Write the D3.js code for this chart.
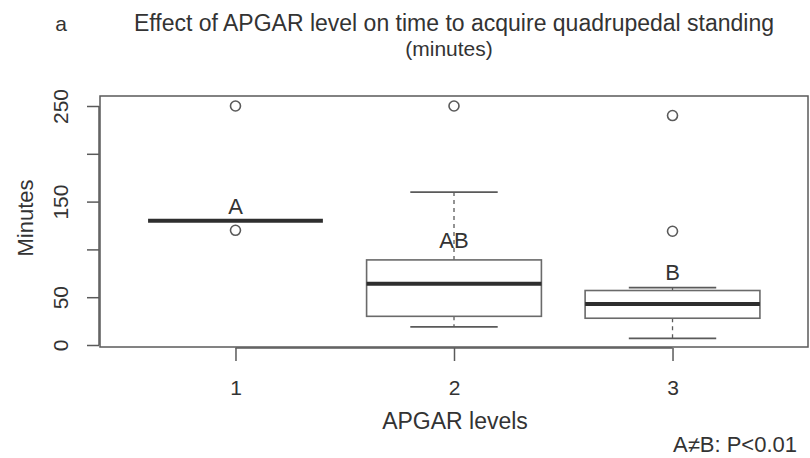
<!DOCTYPE html>
<html>
<head>
<meta charset="utf-8">
<script src="https://cdnjs.cloudflare.com/ajax/libs/d3/7.8.5/d3.min.js"></script>
<style>
  body { margin: 0; background: #fff; }
  text { font-family: "Liberation Sans", Arial, sans-serif; fill: #333; }
</style>
</head>
<body>
<script>
// values
var levels = [1, 2, 3];
var medians = [130, 64, 43];
var q1 = [130, 30, 28];
var q3 = [130, 89, 57];
var whiskLow = [130, 19, 7];
var whiskHigh = [130, 160, 60];
var outliers = [[250, 120], [250], [240, 119]];
var letters = ["A", "AB", "B"];
var letterAt = [145, 110, 76];
var yTicks = [0, 50, 100, 150, 200, 250];
var yTickLabels = ["0", "50", "", "150", "", "250"];

var W = 810, H = 458;
var frame = {left: 100, right: 808, top: 96, bottom: 347};

var svg = d3.select("body").append("svg")
  .attr("width", W).attr("height", H);

var x = d3.scaleLinear().domain([0.38, 3.62]).range([frame.left, frame.right]);
var y = d3.scaleLinear().domain([0, 250]).range([345, 106]);

var lineCol = "#5a5a5a";

// frame
svg.append("rect")
  .attr("x", frame.left).attr("y", frame.top)
  .attr("width", frame.right - frame.left).attr("height", frame.bottom - frame.top)
  .attr("fill", "none").attr("stroke", lineCol).attr("stroke-width", 1.5);

// y axis
var yAxis = d3.axisLeft(y).tickValues(yTicks)
  .tickFormat(function(d, i){ return yTickLabels[i]; })
  .tickSize(12);
var gy = svg.append("g").attr("transform", "translate(" + (frame.left - 1) + ",0)").call(yAxis);
gy.select(".domain").remove();
gy.selectAll("line").attr("stroke", lineCol).attr("stroke-width", 1.5);
gy.selectAll("text")
  .attr("font-size", 21).attr("fill", "#333")
  .attr("text-anchor", "middle")
  .attr("x", 0).attr("y", 0).attr("dy", 0)
  .attr("transform", "translate(-31,0) rotate(-90)");
svg.append("line")
  .attr("x1", frame.left - 1).attr("x2", frame.left - 1)
  .attr("y1", y(0)).attr("y2", y(250))
  .attr("stroke", lineCol).attr("stroke-width", 1.5);

// x axis
var xAxis = d3.axisBottom(x).tickValues(levels).tickFormat(d3.format("d"))
  .tickSize(13).tickPadding(19);
var gx = svg.append("g").attr("transform", "translate(0," + (frame.bottom + 1) + ")").call(xAxis);
gx.select(".domain").remove();
gx.selectAll("line").attr("stroke", lineCol).attr("stroke-width", 1.5);
gx.selectAll("text").attr("font-size", 21).attr("fill", "#333");
svg.append("line")
  .attr("x1", x(1)).attr("x2", x(3))
  .attr("y1", frame.bottom + 1).attr("y2", frame.bottom + 1)
  .attr("stroke", lineCol).attr("stroke-width", 1.5);

// boxes
var boxHalf = 0.4, capHalf = 0.2;
var g = svg.append("g");
levels.forEach(function(lv, i) {
  // whiskers
  if (whiskHigh[i] > q3[i]) {
    g.append("line").attr("x1", x(lv)).attr("x2", x(lv))
      .attr("y1", y(q3[i])).attr("y2", y(whiskHigh[i]))
      .attr("stroke", lineCol).attr("stroke-width", 1.3).attr("stroke-dasharray", "4,4");
    g.append("line").attr("x1", x(lv - capHalf)).attr("x2", x(lv + capHalf))
      .attr("y1", y(whiskHigh[i])).attr("y2", y(whiskHigh[i]))
      .attr("stroke", lineCol).attr("stroke-width", 1.8);
  }
  if (whiskLow[i] < q1[i]) {
    g.append("line").attr("x1", x(lv)).attr("x2", x(lv))
      .attr("y1", y(q1[i])).attr("y2", y(whiskLow[i]))
      .attr("stroke", lineCol).attr("stroke-width", 1.3).attr("stroke-dasharray", "4,4");
    g.append("line").attr("x1", x(lv - capHalf)).attr("x2", x(lv + capHalf))
      .attr("y1", y(whiskLow[i])).attr("y2", y(whiskLow[i]))
      .attr("stroke", lineCol).attr("stroke-width", 1.8);
  }
  g.append("rect")
    .attr("x", x(lv - boxHalf)).attr("width", x(lv + boxHalf) - x(lv - boxHalf))
    .attr("y", y(q3[i])).attr("height", y(q1[i]) - y(q3[i]))
    .attr("fill", "#fff").attr("stroke", "#6a6a6a").attr("stroke-width", 1.6);
  g.append("line")
    .attr("x1", x(lv - boxHalf)).attr("x2", x(lv + boxHalf))
    .attr("y1", y(medians[i])).attr("y2", y(medians[i]))
    .attr("stroke", "#2e2e2e").attr("stroke-width", 4);
  outliers[i].forEach(function(v) {
    g.append("circle").attr("cx", x(lv)).attr("cy", y(v)).attr("r", 5)
      .attr("fill", "none").attr("stroke", lineCol).attr("stroke-width", 1.6);
  });
  g.append("text").attr("x", x(lv)).attr("y", y(letterAt[i])).attr("dy", "0.35em")
    .attr("text-anchor", "middle").attr("font-size", 22).text(letters[i]);
});

// titles and labels
svg.append("text").attr("x", 61).attr("y", 31).attr("font-size", 21).attr("text-anchor", "middle").text("a");
svg.append("text").attr("x", 454).attr("y", 31).attr("font-size", 23).attr("text-anchor", "middle")
  .text("Effect of APGAR level on time to acquire quadrupedal standing");
svg.append("text").attr("x", 449).attr("y", 56).attr("font-size", 21).attr("text-anchor", "middle")
  .text("(minutes)");
svg.append("text").attr("transform", "translate(33,218) rotate(-90)")
  .attr("font-size", 22).attr("text-anchor", "middle").text("Minutes");
svg.append("text").attr("x", 455).attr("y", 429).attr("font-size", 23).attr("text-anchor", "middle")
  .text("APGAR levels");
svg.append("text").attr("x", 797).attr("y", 452).attr("font-size", 22).attr("text-anchor", "end")
  .text("A\u2260B: P<0.01");
</script>
</body>
</html>
